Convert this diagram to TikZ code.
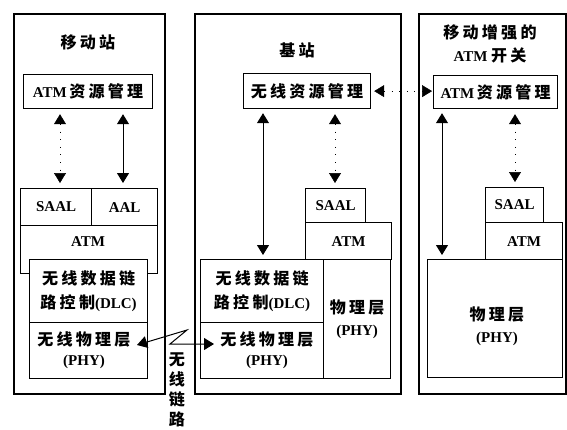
\documentclass[tikz,border=0pt]{standalone}
\usepackage{fontspec}
\setmainfont{Liberation Serif}
\newfontfamily\cjk{Noto Sans CJK SC}[LetterSpace=20, Scale=1.07]
\newcommand\zhs[1]{{\cjk #1}}
\usetikzlibrary{arrows.meta}
\begin{document}
\begin{tikzpicture}[x=1pt,y=-1pt,
  every node/.style={font=\bfseries\fontsize{15}{19}\selectfont, inner sep=0pt},
  outer/.style={draw, line width=2.2pt, anchor=north west},
  box/.style={draw, line width=1.2pt, anchor=north west, fill=white, align=center},
  dtip/.style={{Triangle[width=12pt,length=10pt]}-{Triangle[width=12pt,length=10pt]}, line width=1pt},
  faint/.style={dtip, dash pattern=on 0.6pt off 7pt, line width=0.5pt},
]
\useasboundingbox (0,0) rectangle (567,429);

% ---------- outer frames ----------
\node[outer, minimum width=151pt, minimum height=380pt] (out1) at (13,13) {};
\node[outer, minimum width=206pt, minimum height=380pt] (out2) at (194,13) {};
\node[outer, minimum width=147pt, minimum height=380pt] (out3) at (418,13) {};

% ---------- titles ----------
\node (t1) at (88,42) {\zhs{移动站}};
\node (t2) at (297,50) {\zhs{基站}};
\node[align=center, font=\bfseries\fontsize{15}{23}\selectfont] (t3) at (490,44) {\zhs{移动增强的}\\ATM\ \zhs{开关}};

% ---------- mobile station ----------
\node[box, minimum width=129pt, minimum height=34pt] (rrm1) at (23,74) {ATM\,\zhs{资源管理}};
\node[box, minimum width=71pt, minimum height=37pt] (saal1) at (20,188) {SAAL};
\node[box, minimum width=66pt, minimum height=37pt] (aal1) at (91,188) {AAL};
\node[box, minimum width=137pt, minimum height=48pt] (atm1) at (20,225) {};
\node (atm1t) at (88,242) {ATM};
\node[box, minimum width=118pt, minimum height=63pt, font=\bfseries\fontsize{15}{24}\selectfont] (dlc1) at (29,259) {\zhs{无线数据链}\\\zhs{路控制}(DLC)};
\node[box, minimum width=118pt, minimum height=56pt, font=\bfseries\fontsize{15}{20}\selectfont] (phy1) at (29,322) {};
\node[align=center, font=\bfseries\fontsize{15}{20}\selectfont] (phy1t) at (84,350) {\zhs{无线物理层}\\(PHY)};

\draw[faint, shorten <=5pt, shorten >=5pt] ([xshift=37pt]rrm1.south west) -- ([xshift=40pt]saal1.north west);
\draw[dtip, shorten <=5pt, shorten >=5pt] ([xshift=100pt]rrm1.south west) -- ([xshift=32pt]aal1.north west);

% ---------- base station ----------
\node[box, minimum width=127pt, minimum height=35pt] (rrm2) at (243,73) {\zhs{无线资源管理}};
\node[box, minimum width=60pt, minimum height=34pt] (saal2) at (305,188) {SAAL};
\node[box, minimum width=86pt, minimum height=37pt] (atm2) at (305,222) {ATM};
\node[box, minimum width=123pt, minimum height=63pt, font=\bfseries\fontsize{15}{24}\selectfont] (dlc2) at (200,259) {\zhs{无线数据链}\\\zhs{路控制}(DLC)};
\node[box, minimum width=123pt, minimum height=56pt, font=\bfseries\fontsize{15}{20}\selectfont] (phyw2) at (200,322) {};
\node[align=center, font=\bfseries\fontsize{15}{20}\selectfont] (phyw2t) at (267,350) {\zhs{无线物理层}\\(PHY)};
\node[box, minimum width=67pt, minimum height=119pt, font=\bfseries\fontsize{15}{22}\selectfont] (phy2) at (323,259) {\zhs{物理层}\\(PHY)};

\draw[dtip, shorten <=4pt, shorten >=4pt] ([xshift=20pt]rrm2.south west) -- ([xshift=63pt]dlc2.north west);
\draw[faint, shorten <=5pt, shorten >=5pt] ([xshift=92pt]rrm2.south west) -- ([xshift=30pt]saal2.north west);

% ---------- mobile-enhanced ATM switch ----------
\node[box, minimum width=124pt, minimum height=33pt] (rrm3) at (433,75) {ATM\,\zhs{资源管理}};
\node[box, minimum width=58pt, minimum height=35pt] (saal3) at (485,187) {SAAL};
\node[box, minimum width=77pt, minimum height=37pt] (atm3) at (485,222) {ATM};
\node[box, minimum width=135pt, minimum height=118pt] (phy3) at (427,259) {};
\node[align=center, font=\bfseries\fontsize{15}{22}\selectfont] (phy3t) at (497,326) {\zhs{物理层}\\(PHY)};

\draw[dtip, shorten <=4pt, shorten >=4pt] ([xshift=9pt]rrm3.south west) -- ([xshift=15pt]phy3.north west);
\draw[faint, shorten <=5pt, shorten >=5pt] ([xshift=82pt]rrm3.south west) -- ([xshift=30pt]saal3.north west);

% ---------- signalling between BS and switch ----------
\draw[faint, shorten <=3pt, shorten >=1pt] (rrm2.east) -- (rrm2.east -| rrm3.west);

% ---------- radio link ----------
\coordinate (wlA) at (137,345);
\coordinate (wlB) at (187,330);
\coordinate (wlC) at (170,344);
\coordinate (wlD) at (214,344);
\draw[dtip] (wlA) -- (wlB) -- (wlC) -- (wlD);
\node[align=center, font=\bfseries\fontsize{15}{20}\selectfont] (wlt) at (177,390) {\zhs{无}\\\zhs{线}\\\zhs{链}\\\zhs{路}};
\end{tikzpicture}
\end{document}
